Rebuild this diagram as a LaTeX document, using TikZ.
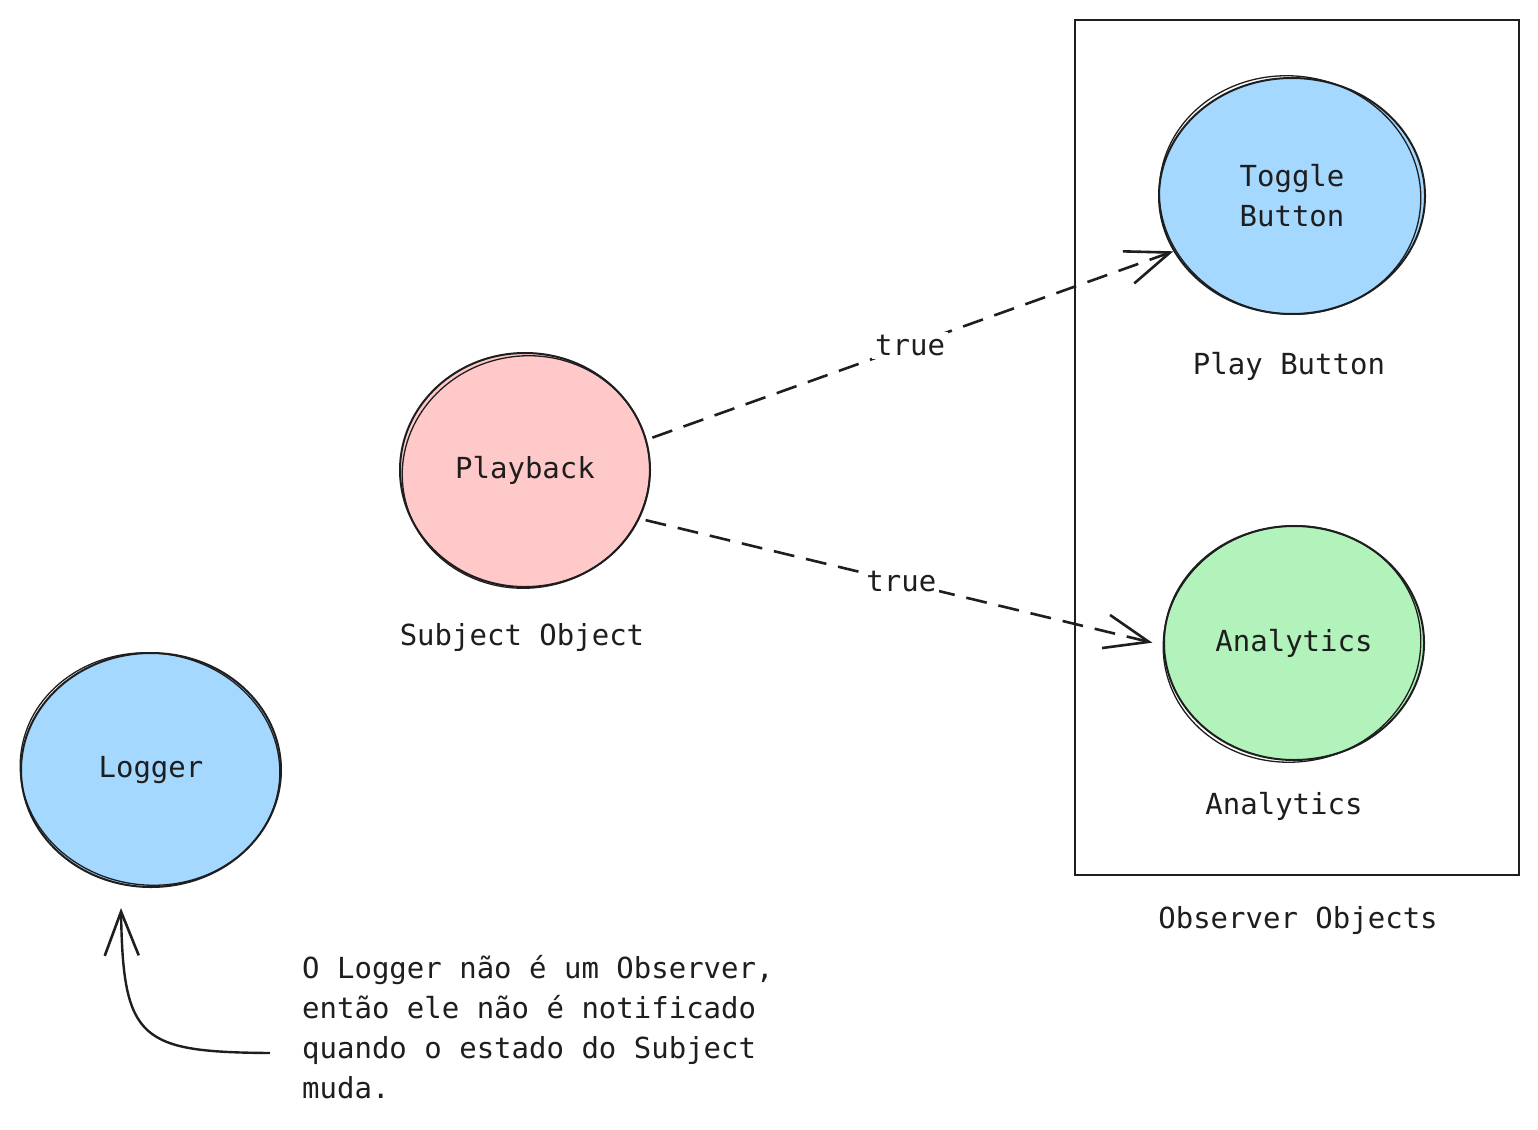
\documentclass[tikz,border=0pt]{standalone}
\usepackage{fontspec}
\newfontfamily\hand{DejaVu Sans Mono}
\usetikzlibrary{shapes.geometric,arrows.meta}
\definecolor{ink}{HTML}{1E1E1E}
\definecolor{pinkf}{HTML}{FFC9C9}
\definecolor{bluef}{HTML}{A5D8FF}
\definecolor{greenf}{HTML}{B2F2BB}
\tikzset{
  txt/.style={font=\hand\fontsize{29}{40}\selectfont, text=ink, inner sep=0pt},
  bubble/.style={ellipse, draw=ink, line width=2pt, inner sep=0pt, txt},
  sk/.style={draw=ink, line width=1.3pt},
  barb/.style={-{Straight Barb[length=44pt,width=34pt,line width=2.6pt]}},
  conn/.style={draw=ink, line width=2.6pt, dash pattern=on 21pt off 12pt, barb},
  lbl/.style={txt, fill=white, inner sep=3pt},
}
\begin{document}
\begin{tikzpicture}[x=1pt,y=-1pt]
\useasboundingbox[fill=white] (0,0) rectangle (1538,1129);

% observer frame
\node[draw=ink, line width=2.4pt, minimum width=444pt, minimum height=855pt, inner sep=0pt] (obs) at (1297,447.5) {};
\node[txt] (obslbl) at (1298,920) {Observer Objects};

% subject
\node[bubble, fill=pinkf, minimum width=250pt, minimum height=234pt] (pb) at (525,470) {Playback};
\draw[sk] ([xshift=1pt,yshift=-2pt]pb.center) ellipse [x radius=124, y radius=116, rotate=10];
\node[txt] (pblbl) at (522,637) {Subject Object};

% toggle button
\node[bubble, fill=bluef, minimum width=266pt, minimum height=236pt, align=center] (tb) at (1292,196) {Toggle\\ Button};
\draw[sk] ([xshift=-2pt,yshift=1pt]tb.center) ellipse [x radius=131, y radius=119, rotate=-8];
\node[txt] (tblbl) at (1289,366) {Play Button};

% analytics
\node[bubble, fill=greenf, minimum width=260pt, minimum height=234pt] (an) at (1294,643) {Analytics};
\draw[sk] ([xshift=-2pt,yshift=-1pt]an.center) ellipse [x radius=129, y radius=118, rotate=8];
\node[txt] (anlbl) at (1284,806) {Analytics};

% logger
\node[bubble, fill=bluef, minimum width=260pt, minimum height=234pt] (lg) at (151,770) {Logger};
\draw[sk] ([xshift=-1pt,yshift=1pt]lg.center) ellipse [x radius=130, y radius=116, rotate=-7];

% note
\node[txt, align=left, anchor=north west] (note) at (302,955) {O Logger não é um Observer,\\então ele não é notificado\\quando o estado do Subject\\muda.};

% connectors
\draw[conn, shorten <=6pt] (pb.14) -- node[lbl, pos=0.5] {true} (tb.205);
\draw[conn, shorten <=6pt, shorten >=11pt] (pb.-23) -- node[lbl, pos=0.5] {true} (an.181);

\coordinate (nstart) at (270,1053);
\coordinate (lgtip) at (121,908);
\draw[ink, line width=2.4pt, barb] (nstart) .. controls (140,1052) and (123,1040) .. (lgtip);
\end{tikzpicture}
\end{document}
